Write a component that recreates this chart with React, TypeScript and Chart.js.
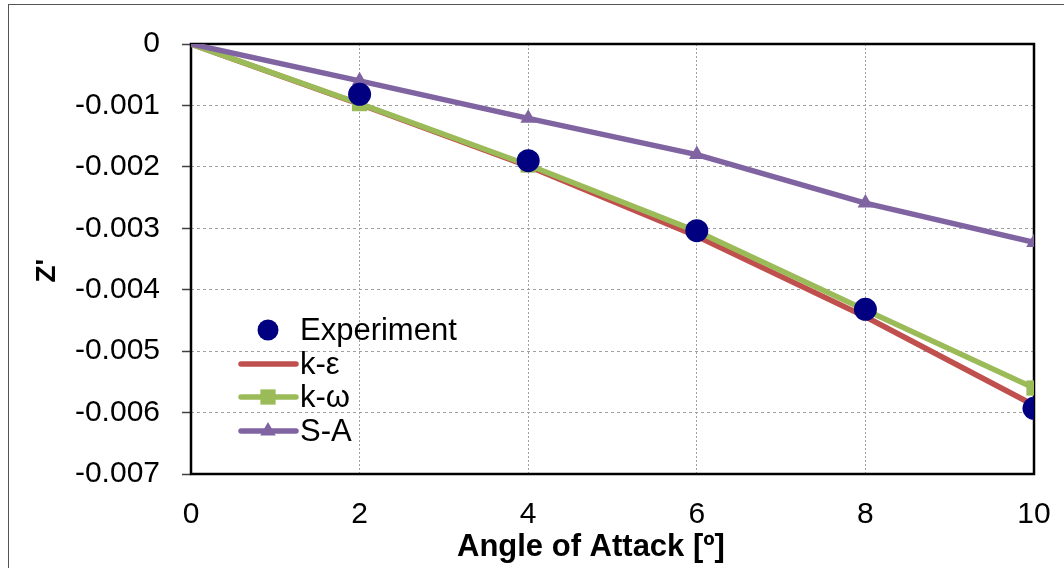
import React, { useEffect, useRef } from "react";
import { Chart, registerables } from "chart.js";

Chart.register(...registerables);

const angles = [0, 2, 4, 6, 8, 10];
const expAngles = [2, 4, 6, 8, 10];
const experiment = [-0.00082, -0.0019, -0.00304, -0.00432, -0.00593];
const kEpsilon = [0, -0.00098, -0.00199, -0.00313, -0.00444, -0.00588];
const kOmega = [0, -0.00097, -0.00197, -0.00305, -0.00433, -0.0056];
const spalartAllmaras = [0, -0.0006, -0.00121, -0.0018, -0.00259, -0.00323];

const seriesNames = ["Experiment", "k-ε", "k-ω", "S-A"];
const xTitle = "Angle of Attack [º]";
const yTitle = "Z'";

const FONT = "'Liberation Sans', Arial, sans-serif";
const LINE_W = 5.5;

const toXY = (xs: number[], ys: number[]) => xs.map((x, i) => ({ x, y: ys[i] }));

function markerPath(ctx: CanvasRenderingContext2D, style: string, x: number, y: number, r: number) {
  ctx.beginPath();
  if (style === "circle") {
    ctx.arc(x, y, r, 0, Math.PI * 2);
  } else if (style === "rect") {
    const s = Math.SQRT1_2 * r;
    ctx.rect(x - s, y - s, 2 * s, 2 * s);
  } else if (style === "triangle") {
    let rad = 0;
    ctx.moveTo(x + Math.sin(rad) * r, y - Math.cos(rad) * r);
    rad += (2 * Math.PI) / 3;
    ctx.lineTo(x + Math.sin(rad) * r, y - Math.cos(rad) * r);
    rad += (2 * Math.PI) / 3;
    ctx.lineTo(x + Math.sin(rad) * r, y - Math.cos(rad) * r);
    ctx.closePath();
  }
  ctx.fill();
}

const frameBorder = {
  id: "frameBorder",
  beforeDatasetsDraw(chart: any) {
    const { ctx, chartArea } = chart;
    ctx.save();
    ctx.strokeStyle = "#000";
    ctx.lineWidth = 2.5;
    ctx.strokeRect(chartArea.left, chartArea.top, chartArea.right - chartArea.left, chartArea.bottom - chartArea.top);
    ctx.restore();
  },
};

const insideLegend = {
  id: "insideLegend",
  afterDatasetsDraw(chart: any) {
    const { ctx } = chart;
    const rows = [330, 364, 397, 431];
    const x0 = 241;
    const x1 = 296;
    const xm = 268;
    const xt = 300;
    ctx.save();
    chart.data.datasets.forEach((ds: any, i: number) => {
      const y = rows[i];
      if (ds.showLine !== false) {
        ctx.strokeStyle = ds.borderColor;
        ctx.lineWidth = LINE_W;
        ctx.lineCap = "round";
        ctx.beginPath();
        ctx.moveTo(x0, y);
        ctx.lineTo(x1, y);
        ctx.stroke();
      }
      if (ds.legendMarker) {
        ctx.fillStyle = ds.pointBackgroundColor;
        markerPath(ctx, ds.pointStyle, xm, y, ds.legendMarker);
      }
      ctx.fillStyle = "#000";
      ctx.font = `31px ${FONT}`;
      ctx.textBaseline = "middle";
      ctx.textAlign = "left";
      ctx.fillText(ds.label, xt, y + 1);
    });
    ctx.restore();
  },
};

export default function App() {
  const ref = useRef<HTMLCanvasElement | null>(null);

  useEffect(() => {
    if (!ref.current) return;
    const markerR = (r: number) => angles.map((_, i) => (i === 0 ? 0 : r));
    const chart = new Chart(ref.current, {
      type: "line",
      data: {
        datasets: [
          {
            label: seriesNames[0],
            data: toXY(expAngles, experiment),
            showLine: false,
            pointStyle: "circle",
            pointRadius: 11.5,
            pointBackgroundColor: "#000080",
            pointBorderWidth: 0,
            borderColor: "#000080",
            order: 0,
            legendMarker: 10.5,
          } as any,
          {
            label: seriesNames[1],
            data: toXY(angles, kEpsilon),
            borderColor: "#C0504D",
            borderWidth: LINE_W,
            pointRadius: 0,
            pointBackgroundColor: "#C0504D",
            order: 3,
          } as any,
          {
            label: seriesNames[2],
            data: toXY(angles, kOmega),
            borderColor: "#9BBB59",
            borderWidth: LINE_W,
            pointStyle: "rect",
            pointRadius: markerR(10.8),
            pointBackgroundColor: "#9BBB59",
            pointBorderWidth: 0,
            order: 2,
            legendMarker: 10.8,
          } as any,
          {
            label: seriesNames[3],
            data: toXY(angles, spalartAllmaras),
            borderColor: "#8064A2",
            borderWidth: LINE_W,
            pointStyle: "triangle",
            pointRadius: markerR(9),
            pointBackgroundColor: "#8064A2",
            pointBorderWidth: 0,
            order: 1,
            legendMarker: 9,
          } as any,
        ],
      },
      options: {
        animation: false,
        responsive: false,
        devicePixelRatio: 1,
        layout: { padding: { top: 44, right: 30, left: 0, bottom: 0 } },
        elements: { line: { tension: 0, borderJoinStyle: "round" as any } },
        plugins: {
          legend: { display: false },
          tooltip: { enabled: false },
        },
        scales: {
          x: {
            type: "linear",
            min: 0,
            max: 10,
            ticks: {
              stepSize: 2,
              color: "#000",
              font: { size: 30, family: FONT },
              padding: 23,
              maxRotation: 0,
            },
            grid: { color: "#a0a0a0", lineWidth: 1, drawTicks: false },
            border: { display: false, dash: [2, 2] },
            title: {
              display: true,
              text: xTitle + "     ",
              color: "#000",
              font: { size: 31, weight: "bold", family: FONT },
              padding: { top: 0, bottom: 2 },
            },
            afterFit: (scale: any) => {
              scale.height = 94;
              scale.paddingLeft = 0;
              scale.paddingRight = 0;
            },
          },
          y: {
            type: "linear",
            min: -0.007,
            max: 0,
            ticks: {
              stepSize: 0.001,
              color: "#000",
              font: { size: 30, family: FONT },
              padding: 22,
              callback: (v: any) => {
                const n = Math.round(Number(v) * 1000) / 1000;
                return n === 0 ? "0" : n.toFixed(3);
              },
            },
            grid: {
              color: "#a0a0a0",
              lineWidth: 1,
              tickLength: 9,
              tickColor: "#404040",
              tickWidth: 1.5,
            },
            border: { display: false, dash: [3, 3] },
            title: {
              display: true,
              text: yTitle + "   ",
              color: "#000",
              font: { size: 28, weight: "bold", family: FONT },
              padding: { top: 30, bottom: 0 },
            },
            afterFit: (scale: any) => {
              scale.width = 191;
              scale.paddingTop = 0;
              scale.paddingBottom = 0;
            },
          },
        },
      },
      plugins: [frameBorder, insideLegend],
    });
    return () => chart.destroy();
  }, []);

  return (
    <div
      style={{
        position: "fixed",
        left: 0,
        top: 0,
        width: 1064,
        height: 568,
        overflow: "hidden",
        background: "#fff",
      }}
    >
      <div
        style={{
          position: "absolute",
          left: 8,
          top: 4,
          width: 1200,
          height: 700,
          border: "1px solid #555",
        }}
      />
      <canvas
        ref={ref}
        width={1064}
        height={568}
        style={{ position: "absolute", left: 0, top: 0, width: 1064, height: 568 }}
      />
    </div>
  );
}
